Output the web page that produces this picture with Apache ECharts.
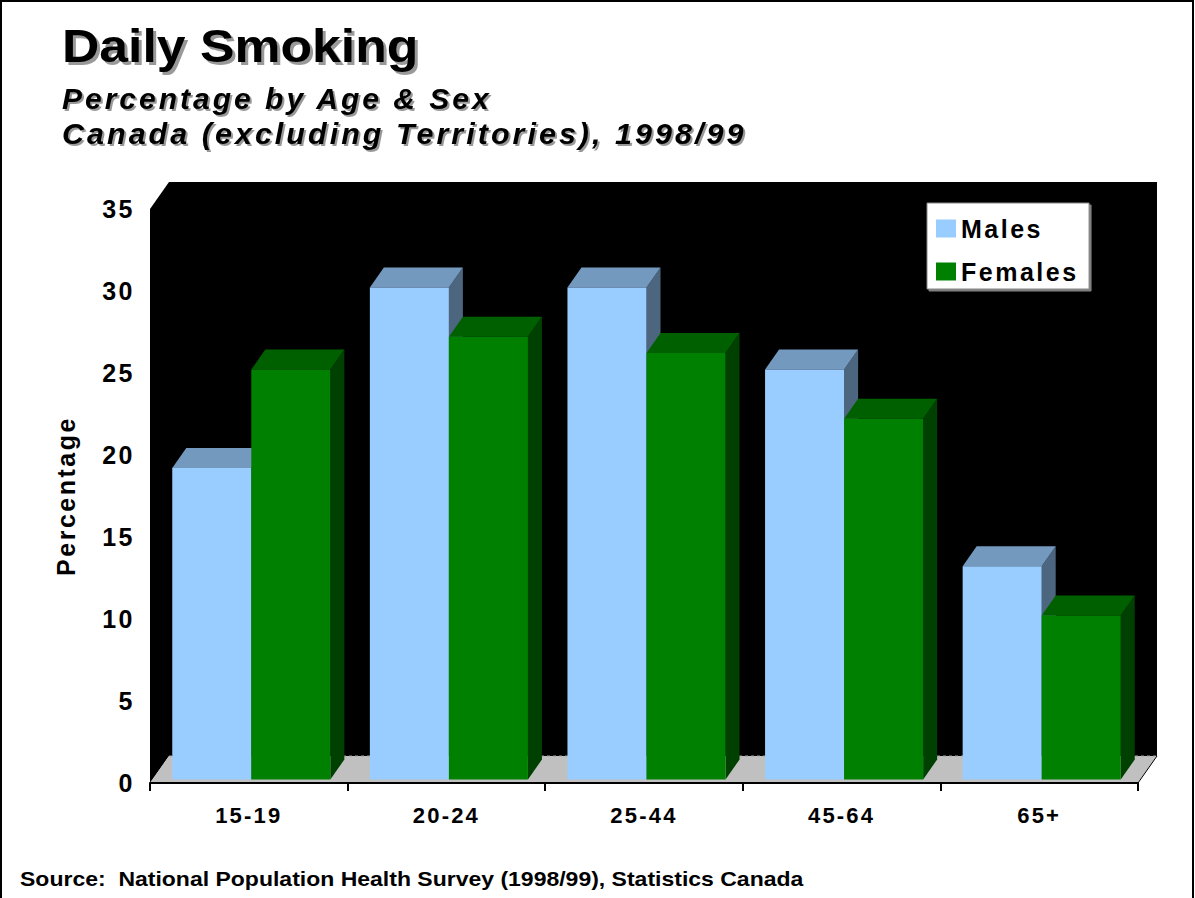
<!DOCTYPE html>
<html>
<head>
<meta charset="utf-8">
<title>Daily Smoking</title>
<script src="https://cdn.jsdelivr.net/npm/echarts@6/dist/echarts.min.js"></script>
<style>
  html, body { margin: 0; padding: 0; background: #fff; }
  #chart { width: 1195px; height: 898px; }
  /* wide tracking on axis/legend labels (font list names Arial) and on the italic subtitles */
  #chart text[style*="Arial"],
  #chart text[style*="italic"] { letter-spacing: 0.1em; }
</style>
</head>
<body>
<div id="chart"></div>
<script>
// Daily smoking, percentage by age group and sex
const categories = ['15-19', '20-24', '25-44', '45-64', '65+'];
const males = [19, 30, 30, 25, 13];
const females = [25, 27, 26, 22, 10];
const yTicks = [0, 5, 10, 15, 20, 25, 30, 35];
const seriesNames = ['Males', 'Females'];

const FONT = '"Liberation Sans", Arial, Helvetica, sans-serif';
const TITLE_FONT = '"Liberation Sans", sans-serif';

// pseudo-3D geometry (pixels): depth of the walls/floor and of each bar
const DEPTH = { wallDx: 19, wallDy: 27, barFrontDx: 2.5, barFrontDy: 3.5, barDx: 14, barDy: 20 };

const FACES = {
  Males: { front: '#99CCFF', top: '#7399BF', side: '#4D6680' },
  Females: { front: '#008000', top: '#006000', side: '#004000' }
};

const yMin = yTicks[0];
const yMax = yTicks[yTicks.length - 1];
const yStep = yTicks[1] - yTicks[0];

// black walls and grey floor behind the bars
function renderWalls(params, api) {
  const n = categories.length;
  const band = api.size([1, 0])[0];
  const first = api.coord([0, yMin]);
  const L = first[0] - band / 2;
  const R = L + band * n;
  const B = first[1];
  const T = api.coord([0, yMax])[1];
  const dx = DEPTH.wallDx, dy = DEPTH.wallDy;
  return {
    type: 'group',
    children: [
      { type: 'rect', shape: { x: L + dx, y: T - dy, width: R - L, height: B - T }, style: { fill: '#000' } },
      { type: 'polygon', shape: { points: [[L, T], [L + dx, T - dy], [L + dx, B - dy], [L, B]] }, style: { fill: '#000' } },
      { type: 'polygon', shape: { points: [[L, B], [R, B], [R + dx, B - dy], [L + dx, B - dy]] }, style: { fill: '#C0C0C0' } },
      { type: 'line', shape: { x1: L + dx, y1: B - dy, x2: R + dx, y2: B - dy }, style: { stroke: '#A0A0A0', lineWidth: 1, lineDash: [3, 3] } },
      { type: 'line', shape: { x1: R, y1: B, x2: R + dx, y2: B - dy }, style: { stroke: '#000', lineWidth: 1 } }
    ]
  };
}

// one box per data item: side, top, then front face
function barRenderer(fromFrac, toFrac, faces) {
  return function (params, api) {
    const idx = api.value(0);
    const val = api.value(1);
    const band = api.size([1, 0])[0];
    const base = api.coord([idx, 0]);
    const top = api.coord([idx, val]);
    const x0 = base[0] + band * fromFrac + DEPTH.barFrontDx;
    const x1 = base[0] + band * toFrac + DEPTH.barFrontDx;
    const yb = base[1] - DEPTH.barFrontDy;
    const yt = top[1] - DEPTH.barFrontDy;
    const dx = DEPTH.barDx, dy = DEPTH.barDy;
    return {
      type: 'group',
      children: [
        { type: 'polygon', shape: { points: [[x1, yt], [x1 + dx, yt - dy], [x1 + dx, yb - dy], [x1, yb]] }, style: { fill: faces.side } },
        { type: 'polygon', shape: { points: [[x0, yt], [x1, yt], [x1 + dx, yt - dy], [x0 + dx, yt - dy]] }, style: { fill: faces.top } },
        { type: 'rect', shape: { x: x0, y: yt, width: x1 - x0, height: yb - yt }, style: { fill: faces.front } }
      ]
    };
  };
}

const chart = echarts.init(document.getElementById('chart'), null, { renderer: 'svg', width: 1195, height: 898 });

function headingText(text, x, y, font, scaleX, shadow) {
  return {
    type: 'text', x: x, y: y, scaleX: scaleX, silent: true,
    style: {
      text: text, font: font, fill: '#000', verticalAlign: 'middle',
      textShadowColor: shadow ? 'rgba(0,0,0,0.4)' : 'transparent',
      textShadowBlur: shadow ? 1.5 : 0,
      textShadowOffsetX: shadow || 0,
      textShadowOffsetY: shadow || 0
    }
  };
}

chart.setOption({
  animation: false,
  backgroundColor: '#fff',
  graphic: [
    { type: 'rect', silent: true, shape: { x: 1, y: 1, width: 1192, height: 910 }, style: { fill: 'none', stroke: '#000', lineWidth: 2 } },
    headingText('Daily Smoking', 62, 46, 'bold 46px ' + TITLE_FONT, 1.125, 3),
    headingText('Percentage by Age & Sex', 62, 98, 'italic bold 30px ' + TITLE_FONT, 1, 2),
    headingText('Canada (excluding Territories), 1998/99', 62, 134, 'italic bold 30px ' + TITLE_FONT, 1.015, 2),
    headingText('Source:  National Population Health Survey (1998/99), Statistics Canada', 20, 879, 'bold 20px ' + TITLE_FONT, 1.15, 0)
  ],
  grid: { left: 150, right: 57, top: 209, bottom: 115, containLabel: false },
  legend: {
    data: seriesNames,
    orient: 'vertical',
    left: 927,
    top: 203,
    padding: [13, 28, 5, 9],
    itemGap: 18,
    itemWidth: 20,
    itemHeight: 18,
    itemTextGap: 9,
    icon: 'rect',
    backgroundColor: '#fff',
    borderColor: '#888',
    borderWidth: 1,
    shadowColor: '#808080',
    shadowOffsetX: 2,
    shadowOffsetY: 2,
    shadowBlur: 0,
    textStyle: { fontFamily: FONT, fontWeight: 'bold', fontSize: 25, color: '#000' }
  },
  xAxis: {
    type: 'category',
    data: categories,
    offset: 2,
    z: 10,
    axisLine: { lineStyle: { color: '#000', width: 2 } },
    axisTick: { show: true, interval: 0, length: 8, lineStyle: { color: '#000', width: 2 } },
    axisLabel: { margin: 19, fontFamily: FONT, fontWeight: 'bold', fontSize: 22, color: '#000', interval: 0 },
    splitLine: { show: false }
  },
  yAxis: {
    type: 'value',
    min: yMin,
    max: yMax,
    interval: yStep,
    name: 'Percentage',
    nameLocation: 'middle',
    nameRotate: 90,
    nameGap: 72,
    nameTextStyle: { fontFamily: FONT, fontWeight: 'bold', fontSize: 25, color: '#000' },
    axisLine: { show: false },
    axisTick: { show: false },
    splitLine: { show: false },
    axisLabel: { margin: 15, fontFamily: FONT, fontWeight: 'bold', fontSize: 25, color: '#000' }
  },
  series: [
    {
      name: 'walls',
      type: 'custom',
      z: 1,
      silent: true,
      renderItem: renderWalls,
      data: [[categories[0], yMin]]
    },
    {
      name: seriesNames[0],
      type: 'custom',
      z: 2,
      itemStyle: { color: FACES.Males.front },
      renderItem: barRenderer(-0.4, 0, FACES.Males),
      encode: { x: 0, y: 1 },
      data: categories.map((c, i) => [c, males[i]])
    },
    {
      name: seriesNames[1],
      type: 'custom',
      z: 3,
      itemStyle: { color: FACES.Females.front },
      renderItem: barRenderer(0, 0.4, FACES.Females),
      encode: { x: 0, y: 1 },
      data: categories.map((c, i) => [c, females[i]])
    }
  ]
});
</script>
</body>
</html>
